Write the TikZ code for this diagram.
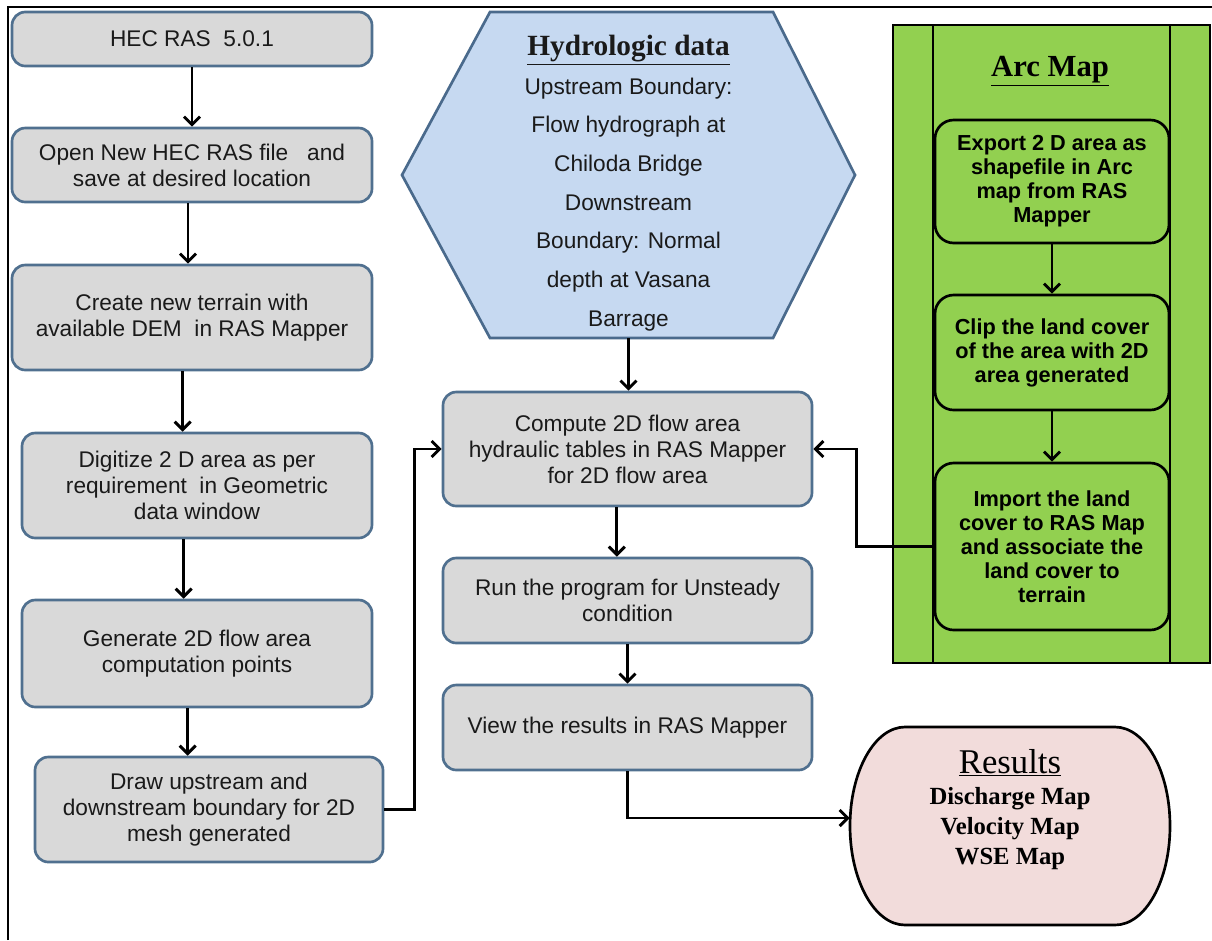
\documentclass[tikz,border=0pt]{standalone}
\usepackage{fontspec}
\setmainfont{Liberation Sans}
\newfontfamily\tnr{Liberation Serif}
\usetikzlibrary{arrows.meta,calc}
\definecolor{boxfill}{HTML}{D9D9D9}
\definecolor{boxline}{HTML}{50708F}
\definecolor{hexfill}{HTML}{C6D9F1}
\definecolor{hexline}{HTML}{4A6A8C}
\definecolor{arcgreen}{HTML}{92D050}
\definecolor{resfill}{HTML}{F2DCDB}
\definecolor{txt}{HTML}{1A1A1A}
\begin{document}
\begin{tikzpicture}[x=0.75pt,y=-0.75pt,
  graybox/.style={draw=boxline, fill=boxfill, line width=2pt, rounded corners=10pt,
    align=center, text=txt, font=\fontsize{17}{19.5}\selectfont, inner sep=0pt},
  greenbox/.style={draw=black, fill=arcgreen, line width=2pt, rounded corners=14pt,
    align=center, text=black, font=\bfseries\fontsize{16.3}{18}\selectfont, inner sep=0pt,
    minimum width={234*0.75pt}},
  arr/.style={-{Straight Barb[length=6pt,width=12pt]}, line width=2.2pt, black},
  frame/.style={line width=1.5pt, black}]
\useasboundingbox (0,0) rectangle (1212,940);
\draw[frame] (8,940) -- (8,7) -- (1212,7);

% left column
\node[graybox, minimum width={360*0.75pt}, minimum height={54*0.75pt}] (b1) at (192,39) {HEC RAS\ \ 5.0.1};
\node[graybox, minimum width={360*0.75pt}, minimum height={74*0.75pt}] (b2) at (192,165) {Open New HEC RAS file\ \ \ and\\save at desired location};
\node[graybox, minimum width={360*0.75pt}, minimum height={105*0.75pt}] (b3) at (192,317.5) {Create new terrain with\\available DEM\ \ in RAS Mapper};
\node[graybox, minimum width={350*0.75pt}, minimum height={105*0.75pt}] (b4) at (197,485.5) {Digitize 2 D area as per\\requirement\ \ in Geometric\\data window};
\node[graybox, minimum width={350*0.75pt}, minimum height={107*0.75pt}] (b5) at (197,653.5) {Generate 2D flow area\\computation points};
\node[graybox, minimum width={348*0.75pt}, minimum height={105*0.75pt}] (b6) at (209,809.5) {Draw upstream and\\downstream boundary for 2D\\mesh generated};

% hexagon
\draw[draw=hexline, fill=hexfill, line width=2pt, line join=miter]
  (402,175) -- (490,12) -- (773,12) -- (855,175) -- (773,338) -- (490,338) -- cycle;
\node[align=center, text=txt, inner sep=0pt, minimum width={453*0.75pt}, minimum height={310*0.75pt},
  font=\fontsize{17}{29}\selectfont] (hex) at (628.5,183)
  {{\tnr\bfseries\fontsize{22}{29}\selectfont\underline{Hydrologic data}}\\
   Upstream Boundary:\\Flow hydrograph at\\Chiloda Bridge\\Downstream\\Boundary: Normal\\depth at Vasana\\Barrage};

% middle column
\node[graybox, minimum width={369*0.75pt}, minimum height={114*0.75pt}] (comp) at (627.5,449) {Compute 2D flow area\\hydraulic tables in RAS Mapper\\for 2D flow area};
\node[graybox, minimum width={369*0.75pt}, minimum height={85*0.75pt}] (run) at (627.5,600.5) {Run the program for Unsteady\\condition};
\node[graybox, minimum width={369*0.75pt}, minimum height={85*0.75pt}] (view) at (627.5,727.5) {View the results in RAS Mapper};

% Arc Map panel
\draw[line width=2pt, fill=arcgreen] (893,25) rectangle (1210,663);
\draw[line width=2pt] (933,25) -- (933,663);
\draw[line width=2pt] (1170,25) -- (1170,663);
\node[font=\tnr\bfseries\fontsize{23}{26}\selectfont, inner sep=0pt] (arct) at (1050,71) {\underline{Arc Map}};
\node[greenbox, minimum height={123*0.75pt}] (g1) at (1052,181.5) {Export 2 D area as\\shapefile in Arc\\map from RAS\\Mapper};
\node[greenbox, minimum height={115*0.75pt}] (g2) at (1052,352.5) {Clip the land cover\\of the area with 2D\\area generated};
\node[greenbox, minimum height={167*0.75pt}] (g3) at (1052,546.5) {Import the land\\cover to RAS Map\\and associate the\\land cover to\\terrain};

% Results
\draw[line width=2pt, fill=resfill]
  (905,727) -- (1115,727) arc[start angle=90, end angle=-90, x radius=41.25pt, y radius=74.25pt]
  -- (905,925) arc[start angle=270, end angle=90, x radius=41.25pt, y radius=74.25pt] -- cycle;
\node[align=center, inner sep=0pt, minimum width={320*0.75pt}, minimum height={198*0.75pt},
  font=\tnr\bfseries\fontsize{18.5}{22.5}\selectfont] (res) at (1010,822)
  {{\mdseries\fontsize{26}{26}\selectfont\underline{Results}}\\[1pt]Discharge Map\\Velocity Map\\WSE Map\\ \mbox{}};

% connectors
\draw[arr] (b1.south) -- (b2.north);
\draw[arr] ([xshift=-3pt]b2.south) -- ([xshift=-3pt]b2.south |- b3.north);
\draw[arr] ([xshift=-7pt]b3.south) -- ([xshift=-7pt]b3.south |- b4.north);
\draw[arr] ([xshift=-10pt]b4.south) -- ([xshift=-10pt]b4.south |- b5.north);
\draw[arr] ([xshift=-7pt]b5.south) -- ([xshift=-7pt]b5.south |- b6.north);
\draw[arr] (hex.south) -- (hex.south |- comp.north);
\draw[arr] ([xshift=-8pt]comp.south) -- ([xshift=-8pt]comp.south |- run.north);
\draw[arr] (run.south) -- (run.south |- view.north);
\draw[arr] (b6.east) -- ++(30,0) |- (comp.west);
\draw[arr] (g3.west) -- ++(-77,0) |- (comp.east);
\draw[arr] (g1.south) -- (g2.north);
\draw[arr] (g2.south) -- (g3.north);
\draw[arr] (view.south) |- ([yshift=3pt]res.west);
\end{tikzpicture}
\end{document}
